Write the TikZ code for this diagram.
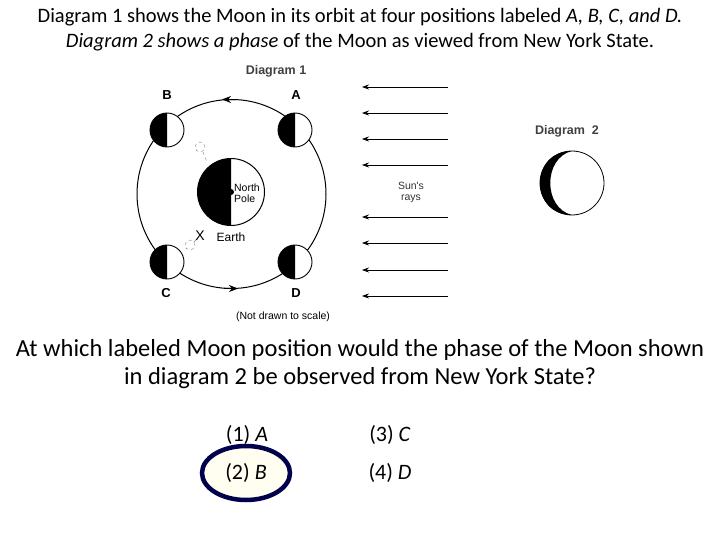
\documentclass[tikz,border=0pt]{standalone}
\usepackage{fontspec}
\setmainfont{Carlito}
\newfontfamily\arial{Liberation Sans}
\usetikzlibrary{arrows.meta,shapes.geometric}
\begin{document}
\begin{tikzpicture}[x=1pt,y=-1pt,
  lbl/.style={font=\arial\bfseries\fontsize{13}{13}\selectfont},
  sm/.style={font=\arial\fontsize{10.5}{11}\selectfont},
  ray/.style={-{Stealth[length=7pt,width=5pt]},line width=0.8pt},
  txt/.style={font=\fontsize{20.5}{24}\selectfont,align=center},
  big/.style={font=\fontsize{24.5}{28}\selectfont,align=center},
  ans/.style={font=\fontsize{22}{26}\selectfont}]
\useasboundingbox (0,0) rectangle (720,540);
\node[txt] (t1) at (360,17) {Diagram 1 shows the Moon in its orbit at four positions labeled \textit{A, B, C, and D.}};
\node[txt] (t2) at (360,42) {\textit{Diagram 2 shows a phase} of the Moon as viewed from New York State.};
% orbit
\node[draw,circle,line width=1pt,minimum size=189pt,inner sep=0] (orbit) at (231.5,194) {};
\draw[line width=1pt,-{Stealth[length=9pt,width=7pt]}] (236,99.6) -- (222,99.4);
\draw[line width=1pt,-{Stealth[length=9pt,width=7pt]}] (224,288.4) -- (238,288.6);
% moons
\foreach \n/\x/\y in {mB/167/130,mA/295/130,mC/167/262,mD/295/262}{
  \node[draw,circle,fill=white,line width=0.9pt,minimum size=34pt,inner sep=0] (\n) at (\x,\y) {};
  \fill (\x,\y+17) arc (90:270:17) -- cycle;
}
\node[lbl] (lB) at (167,95) {B};
\node[lbl] (lA) at (296,95) {A};
\node[lbl] (lC) at (166,293) {C};
\node[lbl] (lD) at (296,293) {D};
\node[font=\arial\bfseries\fontsize{12.5}{13}\selectfont,text=black!75] (d1) at (276,71) {Diagram 1};
% earth
\node[draw,circle,fill=white,line width=1pt,minimum size=67pt,inner sep=0] (earth) at (231,192) {};
\fill (231,225.5) arc (90:270:33.5) -- cycle;
\fill (231,192) circle (3pt);
\node[sm,align=left,inner sep=0] (np) at (247,193) {North\\Pole};
\node[font=\arial\fontsize{14}{14}\selectfont] (x) at (200,236) {X};
\node[font=\arial\fontsize{12}{12}\selectfont] (earthl) at (231,237) {Earth};
\draw[dashed,gray,line width=0.4pt] (200,147) circle (5pt);
\draw[dashed,gray,line width=0.4pt] (190,245) circle (5pt);
\draw[dashed,gray,line width=0.4pt] (203,152) -- (207,162);
\draw[dashed,gray,line width=0.4pt] (194,242) -- (198,238);
\node[font=\arial\fontsize{10.5}{11}\selectfont] (ns) at (283,317) {(Not drawn to scale)};
% rays
\foreach \y [count=\i] in {87,113,139,165,217,243,270,296}{
  \coordinate (rs\i) at (448,\y); \coordinate (re\i) at (362,\y);
  \draw[ray] (rs\i) -- (re\i);
}
\node[sm,align=center,text=black!80] (sr) at (411,192) {Sun's\\rays};
% diagram 2
\node[font=\arial\bfseries\fontsize{12.5}{13}\selectfont,text=black!75] (d2) at (567,131) {Diagram\ \ 2};
\node[draw,circle,line width=0.8pt,minimum size=64pt,inner sep=0] (m2) at (572,183) {};
\fill (572,151) .. controls (529.3,151) and (529.3,215) .. (572,215)
  .. controls (543,208) and (543,158) .. (572,151) -- cycle;
% question
\node[big] (q) at (360,364) {At which labeled Moon position would the phase of the Moon shown\\in diagram 2 be observed from New York State?};
\node[draw=blue!30!black,line width=4.5pt,fill=yellow!6,ellipse,minimum width=88pt,minimum height=54pt] (e) at (246,473) {};
\node[ans] (a1) at (247,435) {(1) \textit{A}};
\node[ans] (a2) at (246,473) {(2) \textit{B}};
\node[ans] (a3) at (390,435) {(3) \textit{C}};
\node[ans] (a4) at (390,473) {(4) \textit{D}};
\end{tikzpicture}
\end{document}
